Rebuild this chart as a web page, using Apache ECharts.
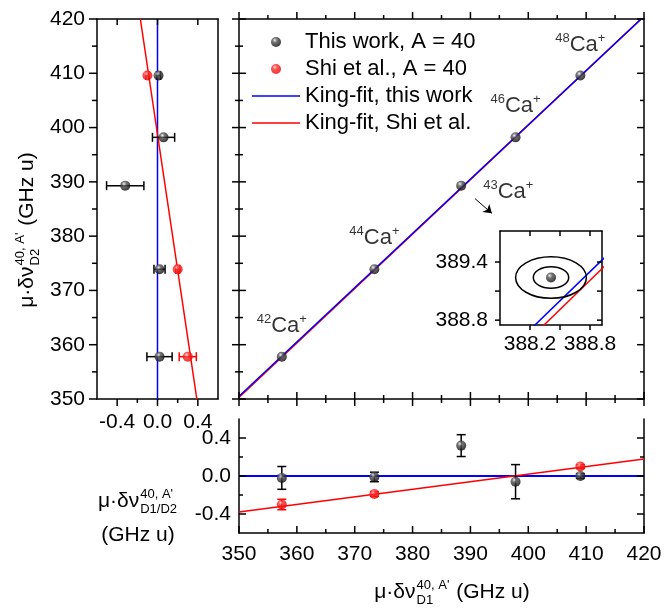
<!DOCTYPE html>
<html>
<head>
<meta charset="utf-8">
<script src="https://cdn.jsdelivr.net/npm/echarts@6/dist/echarts.min.js"></script>
<style>
  html, body { margin: 0; padding: 0; background: #fff; }
  #chart { width: 664px; height: 610px; }
</style>
</head>
<body>
<div id="chart"></div>
<script>
const FONT = '"Liberation Sans", Arial, sans-serif';

// isotopes and the D1 / D2 modified isotope shifts (GHz u)
const isoMass = ['42', '44', '43', '46', '48'];
const d1This = [357.4, 373.4, 388.4, 397.8, 409.0];
const d2This = [357.8, 373.9, 389.3, 398.2, 409.6];
const d1Shi = [357.4, 373.4, 409.0];
const d2Shi = [357.8, 373.9, 409.6];

// residuals, left panel (D2 direction)
const resD2This = [0.02, 0.02, -0.32, 0.06, 0.01];
const errD2This = [0.125, 0.055, 0.185, 0.11, 0.02];
const resD2Shi = [0.30, 0.20, -0.10];
const errD2Shi = [0.085, 0.02, 0.015];

// residuals, bottom panel (D1 direction)
const resD1This = [-0.02, -0.01, 0.32, -0.06, 0.0];
const errD1This = [0.12, 0.05, 0.115, 0.18, 0.025];
const resD1Shi = [-0.30, -0.19, 0.10];
const errD1Shi = [0.055, 0.025, 0.02];

// King fits (end points)
const fitRange = [350, 420];
const fitThisD2 = [350.5, 420.5];
const fitShiD2 = [350.3, 420.5];
const fitResD2This = [0, 0];
const fitResD2Shi = [0.39, -0.17];
const fitResD1This = [0, 0];
const fitResD1Shi = [-0.38, 0.18];

// inset, 43Ca+ with its error ellipses
const inset43 = [388.41, 389.24];
const ellipseRx = [0.177, 0.354];
const ellipseRy = [0.11, 0.215];
const arrowFrom = [390.8, 386.9];
const arrowTo = [393.7, 384.2];

// ticks and tick labels
const mainTicks = [350, 360, 370, 380, 390, 400, 410, 420];
const mainMinor = [355, 365, 375, 385, 395, 405, 415];
const resTicks = [-0.4, 0, 0.4];
const resMinor = [-0.2, 0.2];
const insetXTicks = [388.2, 388.5, 388.8];
const insetXLabels = [388.2, 388.8];
const insetYTicks = [388.8, 389.1, 389.4];
const insetYLabels = [388.8, 389.4];

const names = ['This work, A = 40', 'Shi et al., A = 40', 'King-fit, this work', 'King-fit, Shi et al.'];

const blackBall = { color: { type: 'radial', x: 0.38, y: 0.32, r: 0.75,
  colorStops: [{ offset: 0, color: '#f0f0f0' }, { offset: 0.3, color: '#555' }, { offset: 1, color: '#000' }] } };
const redBall = { color: { type: 'radial', x: 0.38, y: 0.32, r: 0.75,
  colorStops: [{ offset: 0, color: '#ffd8d8' }, { offset: 0.3, color: '#ff2a2a' }, { offset: 1, color: '#e00000' }] } };

const zip = (a, b) => a.map((v, i) => [v, b[i]]);
const zip3 = (a, b, c) => a.map((v, i) => [v, b[i], c[i]]);

const LINE = { show: true, onZero: false, lineStyle: { color: '#000', width: 1.5 } };
function lab(margin, vals, digits) {
  const l = { show: true, margin: margin, fontSize: 21, fontFamily: FONT, color: '#000' };
  if (vals) l.customValues = vals;
  if (digits !== undefined) l.formatter = v => Number(v).toFixed(digits);
  return l;
}
function axis(o) {
  return Object.assign({
    type: 'value', axisLine: LINE, axisTick: { show: false },
    axisLabel: { show: false }, splitLine: { show: false }
  }, o);
}

const R = [-0.6, 0.6];
const IX = [387.9, 388.92];
const IY = [388.75, 389.72];
const xAxis = [
  axis({ gridIndex: 0, position: 'bottom', min: R[0], max: R[1], axisLabel: lab(13, resTicks, 1) }),
  axis({ gridIndex: 0, position: 'top', min: R[0], max: R[1] }),
  axis({ gridIndex: 1, position: 'bottom', min: 350, max: 420, interval: 10 }),
  axis({ gridIndex: 1, position: 'top', min: 350, max: 420, interval: 10 }),
  axis({ gridIndex: 2, position: 'bottom', min: 350, max: 420, interval: 10, axisLabel: lab(11) }),
  axis({ gridIndex: 3, position: 'bottom', min: IX[0], max: IX[1], axisLabel: lab(9, insetXLabels, 1) }),
  axis({ gridIndex: 3, position: 'top', min: IX[0], max: IX[1] })
];
const yAxis = [
  axis({ gridIndex: 0, position: 'left', min: 350, max: 420, interval: 10, axisLabel: lab(12) }),
  axis({ gridIndex: 0, position: 'right', min: 350, max: 420 }),
  axis({ gridIndex: 1, position: 'left', min: 350, max: 420, interval: 10 }),
  axis({ gridIndex: 1, position: 'right', min: 350, max: 420, interval: 10 }),
  axis({ gridIndex: 2, position: 'left', min: R[0], max: R[1], axisLabel: lab(8, resTicks, 1) }),
  axis({ gridIndex: 2, position: 'right', min: R[0], max: R[1] }),
  axis({ gridIndex: 3, position: 'left', min: IY[0], max: IY[1], axisLabel: lab(12, insetYLabels, 1) }),
  axis({ gridIndex: 3, position: 'right', min: IY[0], max: IY[1] })
];

// tick marks, drawn through each grid's own scales
// spec: [side, value on the other axis, tick values, length outside, length inside]
function tickSeries(xi, yi, specs) {
  const data = [];
  specs.forEach((s, k) => s[2].forEach(v => data.push([v, k])));
  return {
    type: 'custom', xAxisIndex: xi, yAxisIndex: yi, silent: true, z: 10, data: data,
    renderItem: function (params, api) {
      const s = specs[api.value(1)], v = api.value(0);
      const side = s[0], out = s[3], inn = s[4];
      let x1, y1, x2, y2;
      if (side === 'left' || side === 'right') {
        const p = api.coord([s[1], v]);
        const sign = side === 'left' ? -1 : 1;
        x1 = p[0] + sign * out; x2 = p[0] - sign * inn; y1 = y2 = p[1];
      } else {
        const p = api.coord([v, s[1]]);
        const sign = side === 'bottom' ? 1 : -1;
        y1 = p[1] + sign * out; y2 = p[1] - sign * inn; x1 = x2 = p[0];
      }
      return { type: 'line', shape: { x1: x1, y1: y1, x2: x2, y2: y2 }, style: { stroke: '#000', lineWidth: 1.5 } };
    }
  };
}

function errBar(color, horizontal) {
  return function (params, api) {
    const x = api.value(0), y = api.value(1), e = api.value(2);
    const a = horizontal ? api.coord([x - e, y]) : api.coord([x, y - e]);
    const b = horizontal ? api.coord([x + e, y]) : api.coord([x, y + e]);
    const h = 4.5;
    const st = { stroke: color, lineWidth: 1.5 };
    const cap = p => horizontal
      ? { type: 'line', shape: { x1: p[0], y1: p[1] - h, x2: p[0], y2: p[1] + h }, style: st }
      : { type: 'line', shape: { x1: p[0] - h, y1: p[1], x2: p[0] + h, y2: p[1] }, style: st };
    return { type: 'group', children: [
      { type: 'line', shape: { x1: a[0], y1: a[1], x2: b[0], y2: b[1] }, style: st }, cap(a), cap(b)] };
  };
}

function fitLine(name, data, color, xi, yi, width) {
  return { name: name, type: 'line', xAxisIndex: xi, yAxisIndex: yi, data: data, symbol: 'none',
    lineStyle: { color: color, width: width || 1.5 }, itemStyle: { color: color }, z: 2, silent: true };
}
function balls(name, data, style, xi, yi) {
  return { name: name, type: 'scatter', xAxisIndex: xi, yAxisIndex: yi, data: data,
    symbolSize: 10, itemStyle: style, z: 5, silent: true };
}
function errs(data, color, xi, yi, horizontal) {
  return { type: 'custom', xAxisIndex: xi, yAxisIndex: yi, data: data, renderItem: errBar(color, horizontal), z: 3, silent: true };
}

const isoRich = {
  c: { fontSize: 22, fontFamily: FONT, color: '#000', lineHeight: 26 },
  s: { fontSize: 13, fontFamily: FONT, color: '#000', lineHeight: 13, verticalAlign: 'top' }
};
const mainPoints = d1This.map((x, i) => ({
  value: [x, d2This[i]],
  label: isoMass[i] === '43'
    ? { show: true, position: 'right', distance: 17, offset: [0, 6], formatter: '{s|43}{c|Ca}{s|+}', rich: isoRich }
    : { show: true, position: 'top', distance: 13, formatter: '{s|' + isoMass[i] + '}{c|Ca}{s|+}', rich: isoRich }
}));

// axis titles with stacked super/subscripts
const ctx = document.createElement('canvas').getContext('2d');
function measure(t, f) { ctx.font = f; return ctx.measureText(t).width; }
function sciTitle(sub, tail, size) {
  const f1 = size + 'px ' + FONT, f2 = '13px ' + FONT;
  const w0 = measure('μ·δν', f1);
  const ws = Math.max(measure("40, A'", f2), measure(sub, f2)) + 2;
  const wt = tail ? measure(tail, f1) : 0;
  const x = -(w0 + ws + wt) / 2;
  const txt = (t, xx, yy, f) => ({ type: 'text', x: xx, y: yy,
    style: { text: t, font: f, fill: '#000', align: 'left', verticalAlign: 'middle', textAlign: 'left', textVerticalAlign: 'middle' } });
  const out = [txt('μ·δν', x, 0, f1), txt("40, A'", x + w0 + 1, -7, f2), txt(sub, x + w0 + 1, 8, f2)];
  if (tail) out.push(txt(tail, x + w0 + ws, 0, f1));
  return out;
}

const lineIcon = 'path://M0,0 L48,0 L48,1.6 L0,1.6 Z';

const option = {
  animation: false,
  grid: [
    { left: 97, top: 19, width: 121, height: 380, outerBoundsMode: 'none' },
    { left: 239, top: 19, width: 405, height: 380, outerBoundsMode: 'none' },
    { left: 239, top: 419, width: 405, height: 114, outerBoundsMode: 'none' },
    { left: 500, top: 231, width: 102, height: 94, outerBoundsMode: 'none' }
  ],
  legend: {
    data: [
      { name: names[0] }, { name: names[1] },
      { name: names[2], icon: lineIcon, itemStyle: { color: '#0000ff' } },
      { name: names[3], icon: lineIcon, itemStyle: { color: '#ff0000' } }
    ],
    orient: 'vertical', left: 252, top: 31, padding: 0,
    itemWidth: 48, itemHeight: 10, itemGap: 5, selectedMode: false,
    textStyle: { fontSize: 22, fontFamily: FONT, color: '#000', lineHeight: 22 }
  },
  xAxis: xAxis,
  yAxis: yAxis,
  series: [
    // left panel
    fitLine(names[2], zip(fitResD2This, fitRange), '#0000ff', 0, 0),
    fitLine(names[3], zip(fitResD2Shi, fitRange), '#ff0000', 0, 0),
    errs(zip3(resD2This, d2This, errD2This), '#000', 0, 0, true),
    errs(zip3(resD2Shi, d2Shi, errD2Shi), '#ff0000', 0, 0, true),
    balls(names[0], zip(resD2This, d2This), blackBall, 0, 0),
    balls(names[1], zip(resD2Shi, d2Shi), redBall, 0, 0),
    // main panel
    fitLine(names[3], zip(fitRange, fitShiD2), '#ff0000', 2, 2),
    fitLine(names[2], zip(fitRange, fitThisD2), '#0000ff', 2, 2),
    Object.assign(balls(names[0], mainPoints, blackBall, 2, 2), {
      markLine: { silent: true, symbol: ['none', 'arrow'], symbolSize: 8, label: { show: false },
        lineStyle: { color: '#000', width: 1, type: 'solid' }, data: [[{ coord: arrowFrom }, { coord: arrowTo }]] }
    }),
    // bottom panel
    fitLine(names[2], zip(fitRange, fitResD1This), '#0000ff', 4, 4, 2),
    fitLine(names[3], zip(fitRange, fitResD1Shi), '#ff0000', 4, 4),
    errs(zip3(d1This, resD1This, errD1This), '#000', 4, 4, false),
    errs(zip3(d1Shi, resD1Shi, errD1Shi), '#ff0000', 4, 4, false),
    balls(names[1], zip(d1Shi, resD1Shi), redBall, 4, 4),
    balls(names[0], zip(d1This, resD1This), blackBall, 4, 4),
    // inset
    fitLine(names[3], zip(fitRange, fitShiD2), '#ff0000', 5, 6),
    fitLine(names[2], zip(fitRange, fitThisD2), '#0000ff', 5, 6),
    { type: 'custom', xAxisIndex: 5, yAxisIndex: 6, silent: true, z: 4,
      data: ellipseRx.map((rx, i) => [inset43[0], inset43[1], rx, ellipseRy[i]]),
      renderItem: function (params, api) {
        const c = api.coord([api.value(0), api.value(1)]);
        const s = api.size([api.value(2), api.value(3)]);
        return { type: 'ellipse', shape: { cx: c[0], cy: c[1], rx: s[0], ry: s[1] },
          style: { fill: 'none', stroke: '#000', lineWidth: 1.5 } };
      } },
    balls(names[0], [inset43], blackBall, 5, 6),
    // ticks
    tickSeries(0, 0, [
      ['left', R[0], mainTicks, 8, 0], ['left', R[0], mainMinor, 5, 0],
      ['bottom', 350, resTicks, 7, 0], ['bottom', 350, resMinor, 4, 0],
      ['top', 420, resTicks, 0, 6]
    ]),
    tickSeries(2, 2, [
      ['left', 350, mainTicks, 7, 7], ['left', 350, mainMinor, 4, 4],
      ['bottom', 350, mainTicks, 7, 7], ['bottom', 350, mainMinor, 4, 4],
      ['top', 420, mainTicks, 7, 0], ['top', 420, mainMinor, 4, 0],
      ['right', 420, mainTicks, 0, 7], ['right', 420, mainMinor, 0, 4]
    ]),
    tickSeries(4, 4, [
      ['bottom', R[0], mainTicks, 0, 7], ['bottom', R[0], mainMinor, 0, 4],
      ['left', 350, resTicks, 0, 7], ['left', 350, resMinor, 0, 4],
      ['right', 420, resTicks, 0, 7], ['right', 420, resMinor, 0, 4]
    ]),
    tickSeries(5, 6, [
      ['bottom', IY[0], insetXTicks, 5, 0], ['top', IY[1], insetXTicks, 0, 5],
      ['left', IX[0], insetYTicks, 5, 0], ['right', IX[1], insetYTicks, 0, 5]
    ])
  ],
  graphic: [
    { type: 'group', x: 452, y: 592, children: sciTitle('D1', ' (GHz u)', 21) },
    { type: 'group', x: 27, y: 230, rotation: Math.PI / 2, children: sciTitle('D2', ' (GHz u)', 21) },
    { type: 'group', x: 138, y: 501, children: sciTitle('D1/D2', '', 21) },
    { type: 'text', x: 138, y: 535, style: { text: '(GHz u)', font: '21px ' + FONT, fill: '#000',
      align: 'center', verticalAlign: 'middle', textAlign: 'center', textVerticalAlign: 'middle' } }
  ]
};

const chart = echarts.init(document.getElementById('chart'), null, { renderer: 'canvas' });
chart.setOption(option);
</script>
</body>
</html>
